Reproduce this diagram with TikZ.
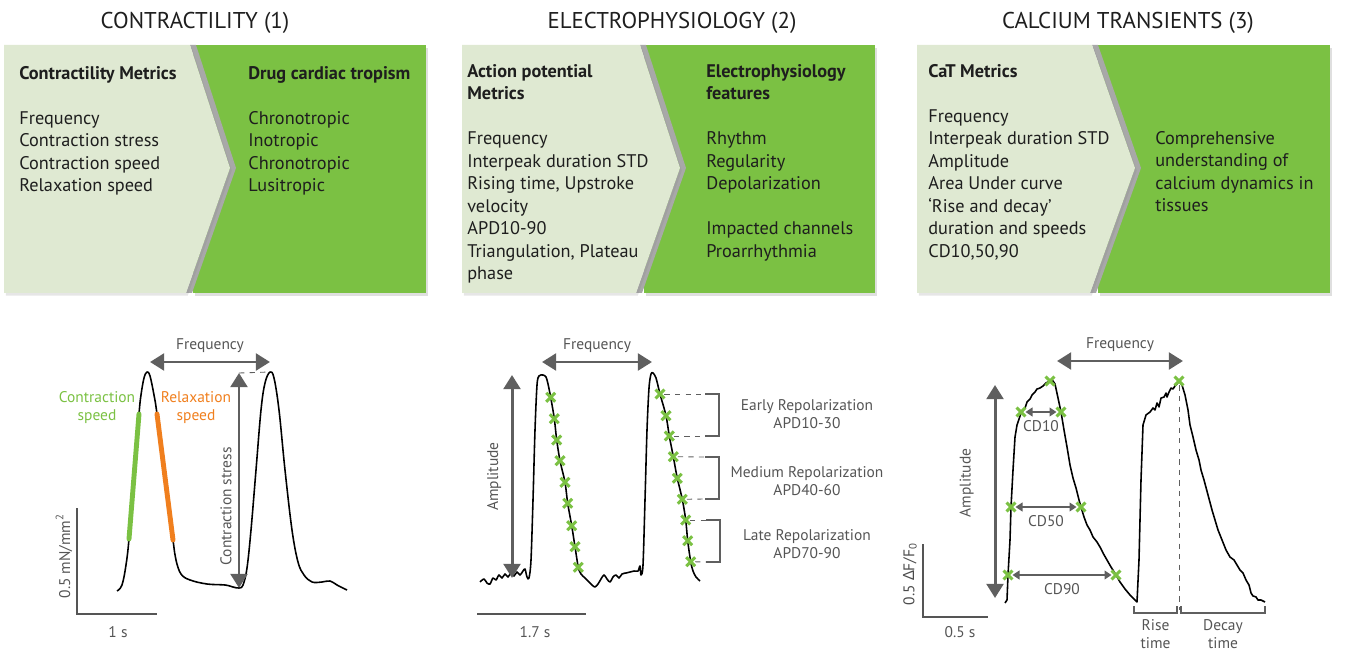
\documentclass[tikz,border=0pt]{standalone}
\usepackage{fontspec}
\setmainfont{PT Sans}
\newfontfamily\greekfont{Noto Sans}
\usetikzlibrary{positioning, shapes.misc, arrows.meta, shadows}
\definecolor{palegreen}{HTML}{DFE9D2}
\definecolor{leafgreen}{HTML}{7BC143}
\definecolor{edgegray}{HTML}{A8A8A8}
\definecolor{arrowgray}{HTML}{5F5F5F}
\definecolor{labelgray}{HTML}{555555}
\definecolor{relaxorange}{HTML}{F07F1E}
\definecolor{inkblack}{HTML}{1E1E1E}
\tikzstyle{heading} = [anchor=base, inner sep=0pt, text=inkblack,
    font=\fontsize{13}{15}\selectfont]
\tikzstyle{paneltext} = [anchor=north west, inner sep=0pt, align=left,
    text=inkblack, font=\fontsize{10.4}{12.8}\selectfont]
\tikzstyle{darkpanel} = [fill=leafgreen,
    drop shadow={opacity=0.25, shadow xshift=1pt, shadow yshift=-1.5pt}]
\tikzstyle{lightpanel} = [fill=palegreen,
    drop shadow={opacity=0.2, shadow xshift=1pt, shadow yshift=-1.5pt}]
\tikzstyle{chevshadow} = [fill=edgegray]
\tikzstyle{trace} = [draw=black, line width=0.9pt, line join=round]
\tikzstyle{bigarrow} = [draw=arrowgray, line width=1.7pt,
    {Triangle[width=9.5pt,length=8pt]}-{Triangle[width=9.5pt,length=8pt]}]
\tikzstyle{smallarrow} = [draw=arrowgray, line width=1.1pt,
    {Triangle[width=5pt,length=4pt]}-{Triangle[width=5pt,length=4pt]}]
\tikzstyle{glabel} = [text=labelgray, align=center,
    font=\fontsize{8.8}{10.2}\selectfont]
\tikzstyle{mk} = [cross out, draw=leafgreen, line width=1.7pt,
    minimum size=3.4pt, inner sep=0pt]
\tikzstyle{brk} = [draw=arrowgray, line width=1.1pt]
\tikzstyle{dashln} = [draw=arrowgray, line width=0.5pt, dashed]
\tikzstyle{scalebar} = [draw=labelgray, line width=0.7pt]

\begin{document}
\begin{tikzpicture}[x=0.02cm, y=-0.02cm]
    \useasboundingbox (0,0) rectangle (1352,665);

    \node[heading] (head1) at (195,29) {CONTRACTILITY (1)};
    \node[heading] (head2) at (672,29) {ELECTROPHYSIOLOGY (2)};
    \node[heading] (head3) at (1128,29) {CALCIUM TRANSIENTS (3)};

    \fill[darkpanel] (193,45) rectangle (426,293);
    \fill[chevshadow] (190,45) -- (196,45) -- (236,168) -- (192,293)
        -- (186,293) -- (230,168) -- cycle;
    \fill[lightpanel] (4,45) -- (190,45) -- (230,168) -- (186,293)
        -- (4,293) -- cycle;

    \fill[darkpanel] (644,45) rectangle (875,293);
    \fill[chevshadow] (640,45) -- (646,45) -- (686,168) -- (642,293)
        -- (636,293) -- (680,168) -- cycle;
    \fill[lightpanel] (462,45) -- (640,45) -- (680,168) -- (636,293)
        -- (462,293) -- cycle;

    \fill[darkpanel] (1098,45) rectangle (1330,293);
    \fill[chevshadow] (1092,45) -- (1098,45) -- (1141,168) -- (1096,293)
        -- (1090,293) -- (1135,168) -- cycle;
    \fill[lightpanel] (917,45) -- (1092,45) -- (1135,168) -- (1090,293)
        -- (917,293) -- cycle;

    \node[paneltext] (metrics1) at (19,66) {\textbf{Contractility Metrics}\\[12.8pt]
        Frequency\\Contraction stress\\Contraction speed\\Relaxation speed};
    \node[paneltext] (tropism) at (248,66) {\textbf{Drug cardiac tropism}\\[12.8pt]
        Chronotropic\\Inotropic\\Chronotropic\\Lusitropic};
    \node[paneltext] (metrics2) at (467,64) {\textbf{Action potential}\\\textbf{Metrics}\\[12.8pt]
        Frequency\\Interpeak duration STD\\Rising time, Upstroke\\velocity\\APD10-90\\
        Triangulation, Plateau\\phase};
    \node[paneltext] (features) at (706,64) {\textbf{Electrophysiology}\\\textbf{features}\\[12.8pt]
        Rhythm\\Regularity\\Depolarization\\[12.8pt]Impacted channels\\Proarrhythmia};
    \node[paneltext] (metrics3) at (928,64) {\textbf{CaT Metrics}\\[12.8pt]
        Frequency\\Interpeak duration STD\\Amplitude\\Area Under curve\\
        ‘Rise and decay’\\duration and speeds\\CD10,50,90};
    \node[paneltext] (dynamics) at (1155,131) {Comprehensive\\understanding of\\
        calcium dynamics in\\tissues};

    \draw[trace] plot[smooth, tension=0.6] coordinates {(117,591) (122,585)
        (126,565) (129,539) (134,477) (139,414) (141,395) (144,378) (147,372)
        (150,376) (154,395) (157,414) (165,477) (173,540) (176,560) (181,574)
        (190,580) (207,584) (225,585) (233,587) (239,588) (243,585) (247,568)
        (251,530) (256,470) (261,410) (265,383) (270,372) (274,378) (279,410)
        (285,470) (292,530) (298,562) (304,575) (312,582) (322,582) (330,581)
        (337,585) (347,590)};
    \draw[leafgreen, line width=2.8pt, line cap=round] (129,539) -- (139,414);
    \draw[relaxorange, line width=2.8pt, line cap=round] (157,414) -- (173,540);
    \node[glabel, text=leafgreen] (cspeed) at (97,408) {Contraction\\speed};
    \node[glabel, text=relaxorange] (rspeed) at (196,408) {Relaxation\\speed};

    \coordinate (fq1a) at (150,362);
    \coordinate (fq1b) at (270,362);
    \draw[bigarrow] (fq1a) -- node[glabel, above=1pt] {Frequency} (fq1b);
    \coordinate (cs1) at (239,588);
    \coordinate (cs2) at (239,373);
    \coordinate (pk2) at (270,372);
    \draw[bigarrow] (cs1) -- node[glabel, sloped, above, pos=0.38] {Contraction stress} (cs2);
    \draw[dashln] (cs2) -- (pk2);

    \coordinate (sb1a) at (77,508);
    \coordinate (sb1o) at (77,614);
    \coordinate (sb1b) at (157,614);
    \draw[scalebar] (sb1a) -- (sb1o) -- (sb1b);
    \node[glabel, rotate=90] (unit1) at (64,556) {0.5 mN/mm\textsuperscript{2}};
    \node[glabel] (time1) at (118,632) {1 s};

    \draw[trace] plot[smooth, tension=0.5] coordinates {(480,582) (484,579)
        (487,583) (490,584) (493,578) (496,580) (499,575) (502,578) (505,574)
        (508,577) (511,573) (514,576) (517,572) (520,575) (523,571) (525,569)
        (527,577) (529,578) (531,560) (533,500) (535,430) (537,385) (539,376)
        (543,375) (546,377) (548,384) (550.7,397.3) (554.3,418.7) (556.7,440)
        (560,460.7) (565,482.3) (567.7,503.3) (571.7,525.7) (575,546.7)
        (578.3,567.3) (581,574) (585,578) (589,582) (592,585) (595,587)
        (598,584) (601,579) (604,575) (607,579) (610,582) (613,577) (616,575)
        (619,578) (622,574) (626,573) (630,572) (634,571) (638,571) (640,566)
        (641,575) (643,565) (645,500) (647,430) (649,388) (651,374) (653,373)
        (656,378) (660,394) (666,415.7) (669.3,436) (673.3,456.7) (677.3,478.3)
        (682.3,499.3) (685.7,520) (687.7,540.7) (690.7,561.7) (693,571)
        (696,577) (700,581)};
    \foreach \x/\y [count=\i] in {550.7/397.3, 554.3/418.7, 556.7/440,
        560/460.7, 565/482.3, 567.7/503.3, 571.7/525.7, 575/546.7, 578.3/567.3}
        \node[mk] (a\i) at (\x,\y) {};
    \foreach \x/\y [count=\i] in {660/394, 666/415.7, 669.3/436,
        673.3/456.7, 677.3/478.3, 682.3/499.3, 685.7/520, 687.7/540.7, 690.7/561.7}
        \node[mk] (b\i) at (\x,\y) {};

    \coordinate (fq2a) at (542,362);
    \coordinate (fq2b) at (652,362);
    \draw[bigarrow] (fq2a) -- node[glabel, above=1pt] {Frequency} (fq2b);
    \coordinate (am2a) at (512,578);
    \coordinate (am2b) at (512,375);
    \draw[bigarrow] (am2a) -- node[glabel, sloped, above=2pt] {Amplitude} (am2b);

    \coordinate (q1) at (705,394);
    \coordinate (q2) at (705,436);
    \coordinate (q3) at (705,457);
    \coordinate (q4) at (705,499);
    \coordinate (q5) at (706,520);
    \coordinate (q6) at (706,562);
    \draw[dashln] (b1) -- (q1);
    \draw[dashln] (b3) -- (q2);
    \draw[dashln] (b4) -- (q3);
    \draw[dashln] (b6) -- (q4);
    \draw[dashln] (b7) -- (q5);
    \draw[dashln] (b9) -- (q6);
    \draw[brk] (q1) -- ++(14,0) |- (q2);
    \draw[brk] (q3) -- ++(14,0) |- (q4);
    \draw[brk] (q5) -- ++(14,0) |- (q6);
    \node[glabel] (early) at (807,414) {Early Repolarization\\APD10-30};
    \node[glabel] (medium) at (807,481) {Medium Repolarization\\APD40-60};
    \node[glabel] (late) at (807,544) {Late Repolarization\\APD70-90};

    \coordinate (sb2a) at (477,614);
    \coordinate (sb2b) at (586,614);
    \draw[scalebar] (sb2a) -- (sb2b);
    \node[glabel] (time2) at (535,632) {1.7 s};

    \draw[trace] (1005,603) -- (1007,600) -- (1008,575) -- (1010,540)
        -- (1011,507) -- (1013,470) -- (1015,437) -- (1017,425) -- (1021,413)
        -- (1025,408) -- (1027,402) -- (1030,399) -- (1032,395) -- (1035,392)
        -- (1037,389) -- (1040,388) -- (1043,386) -- (1046,383) -- (1050,381)
        -- (1053,381) -- (1055,384) -- (1058,398) -- (1061,412) -- (1064,430)
        -- (1067,447) -- (1070,465) -- (1073,478) -- (1076,488) -- (1079,500)
        -- (1081,507) -- (1084,517) -- (1087,525) -- (1090,530) -- (1093,537)
        -- (1097,542) -- (1100,547) -- (1103,553) -- (1107,560) -- (1111,567)
        -- (1116,575) -- (1120,582) -- (1125,589) -- (1130,595) -- (1134,599)
        -- (1137,602) -- (1139,560) -- (1141,480) -- (1143,425) -- (1146,415)
        -- (1150,412) -- (1153,408) -- (1155,410) -- (1157,403) -- (1159,407)
        -- (1161,398) -- (1164,397) -- (1166,393) -- (1167,397) -- (1169,392)
        -- (1171,388) -- (1173,389) -- (1175,386) -- (1177,384) -- (1179,381)
        -- (1182,385) -- (1185,395) -- (1188,410) -- (1190,425) -- (1193,437)
        -- (1196,450) -- (1199,460) -- (1201,470) -- (1204,480) -- (1208,495)
        -- (1212,510) -- (1215,520) -- (1218,530) -- (1222,540) -- (1226,550)
        -- (1230,557) -- (1234,560) -- (1237,565) -- (1240,570) -- (1243,573)
        -- (1246,580) -- (1249,585) -- (1251,593) -- (1253,596) -- (1256,597)
        -- (1258,600) -- (1261,600) -- (1265,602);
    \foreach \x/\y [count=\i] in {1008/575, 1011/507, 1021/412, 1050/381,
        1061/412, 1081/507, 1116/575}
        \node[mk] (c\i) at (\x,\y) {};
    \node[mk] (cpeak) at (1179,381) {};

    \draw[smallarrow] (c3) -- node[glabel, below=1pt] {CD10} (c5);
    \draw[smallarrow] (c2) -- node[glabel, below=1pt] {CD50} (c6);
    \draw[smallarrow] (c1) -- node[glabel, below=1pt] {CD90} (c7);

    \coordinate (fq3a) at (1057,361);
    \coordinate (fq3b) at (1183,361);
    \draw[bigarrow] (fq3a) -- node[glabel, above=1pt] {Frequency} (fq3b);
    \coordinate (am3a) at (995,598);
    \coordinate (am3b) at (995,385);
    \draw[bigarrow] (am3a) -- node[glabel, sloped, above=8pt, pos=0.54] {Amplitude} (am3b);

    \coordinate (dv) at (1179,610);
    \draw[dashln] (cpeak) -- (dv);
    \coordinate (r1) at (1134,613);
    \coordinate (r2) at (1177,613);
    \coordinate (d1) at (1181,613);
    \coordinate (d2) at (1265,613);
    \draw[brk] (r1) ++(0,-7) -- (r1) -- node[glabel, below] {Rise\\time} (r2) -- ++(0,-7);
    \draw[brk] (d1) ++(0,-7) -- (d1) -- node[glabel, below] {Decay\\time} (d2) -- ++(0,-7);

    \coordinate (sb3a) at (923,544);
    \coordinate (sb3o) at (923,617);
    \coordinate (sb3b) at (988,617);
    \draw[scalebar] (sb3a) -- (sb3o) -- (sb3b);
    \node[glabel, rotate=90, text=inkblack!80] (unit3) at (910,574)
        {0.5 {\greekfont Δ}F/F\textsubscript{0}};
    \node[glabel] (time3) at (960,632) {0.5 s};
\end{tikzpicture}
\end{document}
